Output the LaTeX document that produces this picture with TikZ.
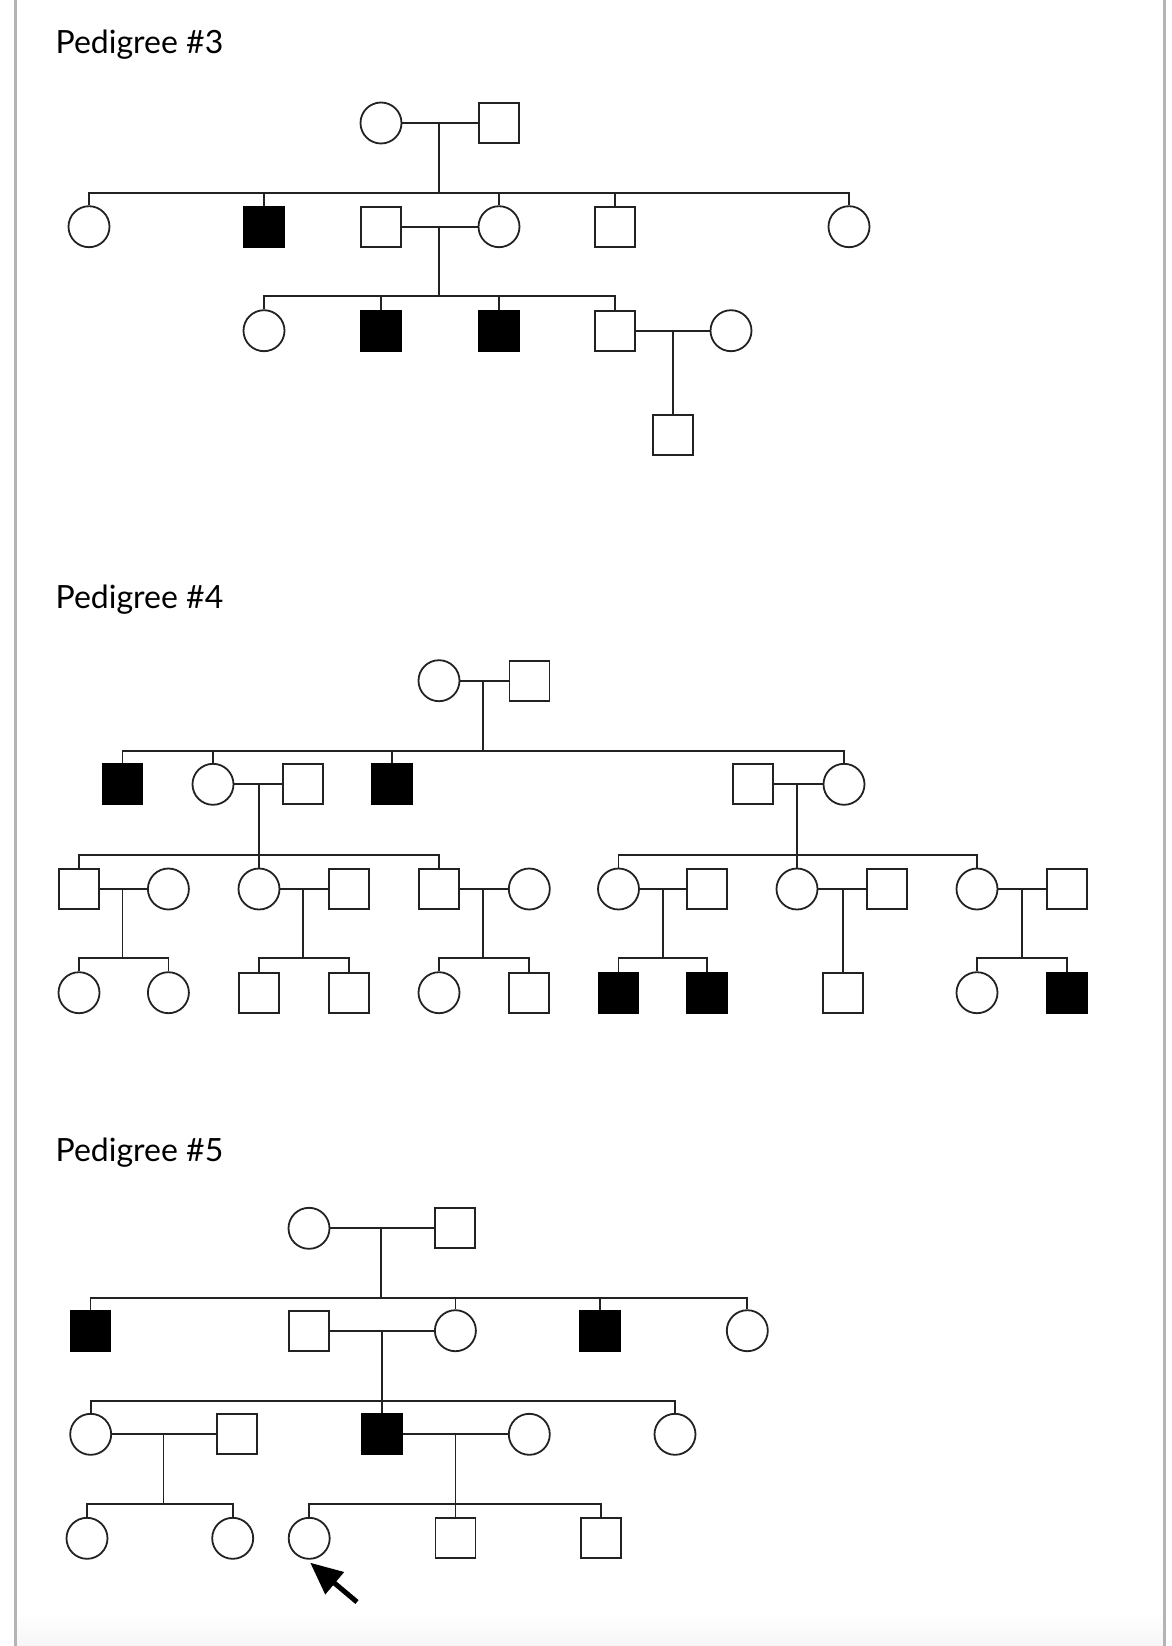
\documentclass[tikz,border=0pt]{standalone}
\usepackage{fontspec}
\setmainfont{Lato}
\usetikzlibrary{arrows.meta}
\definecolor{linec}{HTML}{222222}
\definecolor{framec}{HTML}{B4B4B4}
\begin{document}
\begin{tikzpicture}[x=1pt,y=-1pt,
  fem/.style={circle, draw=linec, line width=1.8pt, minimum size=41pt, inner sep=0pt, fill=white},
  mal/.style={rectangle, draw=linec, line width=1.8pt, minimum size=40pt, inner sep=0pt, fill=white},
  aff/.style={mal, fill=black, draw=black},
  ln/.style={draw=linec, line width=1.8pt},
  ttl/.style={anchor=base west, font=\fontsize{32}{38}\selectfont, inner sep=0pt},
  frame/.style={draw=framec, line width=2.5pt}]
\useasboundingbox (0,0) rectangle (1172,1646);
\fill[white] (0,0) rectangle (1172,1646);
\shade[top color=white, bottom color=gray!7] (16,1612) rectangle (1163,1646);
\coordinate (fl1) at (15.3,0); \coordinate (fl2) at (15.3,1646);
\coordinate (fr1) at (1164.4,0); \coordinate (fr2) at (1164.4,1646);
\draw[frame] (fl1) -- (fl2);
\draw[frame] (fr1) -- (fr2);

% ================= Pedigree 3 =================
\node[ttl] (t3) at (55.5,53.3) {Pedigree \#3};
\node[fem] (p3f) at (381,123) {};
\node[mal] (p3m) at (499,123) {};
\coordinate (p3j1) at (439,123);
\coordinate (p3k1) at (439,192.7);
\node[fem] (p3a) at (89,226.7) {};
\node[aff] (p3b) at (264,226.7) {};
\node[mal] (p3c) at (381,226.7) {};
\node[fem] (p3d) at (499,226.7) {};
\node[mal] (p3e) at (615,226.7) {};
\node[fem] (p3g) at (849,226.7) {};
\draw[ln] (p3f.east) -- (p3m.west);
\draw[ln] (p3j1) -- (p3k1);
\foreach \n in {p3a,p3b,p3d,p3e,p3g} \draw[ln] (p3k1) -| (\n.north);
\coordinate (p3j2) at (439,226.7);
\coordinate (p3k2) at (439,296);
\draw[ln] (p3c.east) -- (p3d.west);
\draw[ln] (p3j2) -- (p3k2);
\node[fem] (p3h) at (264,330.7) {};
\node[aff] (p3i) at (381,330.7) {};
\node[aff] (p3l) at (499,330.7) {};
\node[mal] (p3n) at (615,330.7) {};
\node[fem] (p3o) at (731,330.7) {};
\foreach \n in {p3h,p3i,p3l,p3n} \draw[ln] (p3k2) -| (\n.north);
\draw[ln] (p3n.east) -- (p3o.west);
\coordinate (p3j3) at (673,330.7);
\node[mal] (p3q) at (673,435) {};
\draw[ln] (p3j3) -- (p3q.north);

% ================= Pedigree 4 =================
\node[ttl] (t4) at (55.5,608.3) {Pedigree \#4};
\node[fem] (p4f) at (439,680.7) {};
\node[mal] (p4m) at (529.5,680.7) {};
\coordinate (p4j1) at (483,680.7);
\coordinate (p4k1) at (483,750.7);
\draw[ln] (p4f.east) -- (p4m.west);
\draw[ln] (p4j1) -- (p4k1);
\node[aff] (p4a) at (122.5,784.3) {};
\node[fem] (p4b) at (213,784.3) {};
\node[mal] (p4c) at (303,784.3) {};
\node[aff] (p4d) at (392.3,784.3) {};
\node[mal] (p4e) at (753,784.3) {};
\node[fem] (p4g) at (844,784.3) {};
\foreach \n in {p4a,p4b,p4d,p4g} \draw[ln] (p4k1) -| (\n.north);
\draw[ln] (p4b.east) -- (p4c.west);
\draw[ln] (p4e.east) -- (p4g.west);
\coordinate (p4j2) at (259,784.3);
\coordinate (p4k2) at (259,854.7);
\coordinate (p4j3) at (797,784.3);
\coordinate (p4k3) at (797,854.7);
\draw[ln] (p4j2) -- (p4k2);
\draw[ln] (p4j3) -- (p4k3);
% generation III
\node[mal] (p4h) at (79,889) {};
\node[fem] (p4hs) at (168.4,889) {};
\node[fem] (p4i) at (259,889) {};
\node[mal] (p4is) at (349,889) {};
\node[mal] (p4l) at (439,889) {};
\node[fem] (p4ls) at (529.3,889) {};
\node[fem] (p4n) at (618.5,889) {};
\node[mal] (p4ns) at (707,889) {};
\node[fem] (p4o) at (797,889) {};
\node[mal] (p4os) at (887,889) {};
\node[fem] (p4p) at (977,889) {};
\node[mal] (p4ps) at (1067,889) {};
\foreach \n in {p4h,p4i,p4l} \draw[ln] (p4k2) -| (\n.north);
\foreach \n in {p4n,p4o,p4p} \draw[ln] (p4k3) -| (\n.north);
\foreach \a/\b in {p4h/p4hs,p4i/p4is,p4l/p4ls,p4n/p4ns,p4o/p4os,p4p/p4ps}
  \draw[ln] (\a.east) -- (\b.west);
% generation IV
\coordinate (q1j) at (122.5,889);  \coordinate (q1k) at (122.5,958.3);
\coordinate (q2j) at (303,889);    \coordinate (q2k) at (303,958.3);
\coordinate (q3j) at (483,889);    \coordinate (q3k) at (483,958.3);
\coordinate (q4j) at (662.7,889);  \coordinate (q4k) at (662.7,958.3);
\coordinate (q5j) at (843,889);
\coordinate (q6j) at (1021.7,889); \coordinate (q6k) at (1021.7,958.3);
\foreach \i in {1,2,3,4,6} \draw[ln] (q\i j) -- (q\i k);
\node[fem] (q1a) at (79,992.7) {};
\node[fem] (q1b) at (168.4,992.7) {};
\node[mal] (q2a) at (259,992.7) {};
\node[mal] (q2b) at (349,992.7) {};
\node[fem] (q3a) at (439,992.7) {};
\node[mal] (q3b) at (529.3,992.7) {};
\node[aff] (q4a) at (618.5,992.7) {};
\node[aff] (q4b) at (707,992.7) {};
\node[mal] (q5a) at (843,992.7) {};
\node[fem] (q6a) at (977,992.7) {};
\node[aff] (q6b) at (1067,992.7) {};
\foreach \i in {1,2,3,4,6} {
  \draw[ln] (q\i k) -| (q\i a.north);
  \draw[ln] (q\i k) -| (q\i b.north);
}
\draw[ln] (q5j) -- (q5a.north);

% ================= Pedigree 5 =================
\node[ttl] (t5) at (55.5,1161.7) {Pedigree \#5};
\node[fem] (p5f) at (309,1228.3) {};
\node[mal] (p5m) at (455,1228.3) {};
\coordinate (p5j1) at (381,1228.3);
\coordinate (p5k1) at (381,1297.7);
\draw[ln] (p5f.east) -- (p5m.west);
\draw[ln] (p5j1) -- (p5k1);
\node[aff] (p5a) at (90.5,1330.7) {};
\node[mal] (p5b) at (309,1330.7) {};
\node[fem] (p5c) at (455.4,1330.7) {};
\node[aff] (p5d) at (600,1330.7) {};
\node[fem] (p5e) at (747.3,1330.7) {};
\foreach \n in {p5a,p5c,p5d,p5e} \draw[ln] (p5k1) -| (\n.north);
\draw[ln] (p5b.east) -- (p5c.west);
\coordinate (p5j2) at (382,1330.7);
\coordinate (p5k2) at (382,1401);
\draw[ln] (p5j2) -- (p5k2);
\node[fem] (p5g) at (90.7,1434.3) {};
\node[mal] (p5gs) at (236.7,1434.3) {};
\node[aff] (p5h) at (382,1434.3) {};
\node[fem] (p5hs) at (529.3,1434.3) {};
\node[fem] (p5i) at (675,1434.3) {};
\foreach \n in {p5g,p5h,p5i} \draw[ln] (p5k2) -| (\n.north);
\draw[ln] (p5g.east) -- (p5gs.west);
\draw[ln] (p5h.east) -- (p5hs.west);
\coordinate (r1j) at (163.4,1434.3); \coordinate (r1k) at (163.4,1504.3);
\coordinate (r2j) at (455.4,1434.3); \coordinate (r2k) at (455.4,1504.3);
\draw[ln] (r1j) -- (r1k);
\node[fem] (r1a) at (87,1538.3) {};
\node[fem] (r1b) at (232.7,1538.3) {};
\draw[ln] (r1k) -| (r1a.north);
\draw[ln] (r1k) -| (r1b.north);
\node[fem] (r2a) at (309.2,1538.3) {};
\node[mal] (r2b) at (455.4,1538.3) {};
\node[mal] (r2c) at (600.7,1538.3) {};
\draw[ln] (r2j) -- (r2b.north);
\draw[ln] (r2k) -| (r2a.north);
\draw[ln] (r2k) -| (r2c.north);
% proband arrow
\coordinate (tail) at (357,1602);
\draw[line width=5pt, -{Triangle[length=32pt,width=28pt]}] (tail) -- ([xshift=1pt,yshift=-3pt]r2a.south);
\end{tikzpicture}
\end{document}
